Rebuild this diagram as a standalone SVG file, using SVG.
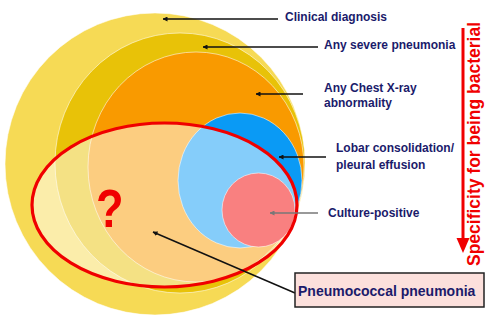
<svg xmlns="http://www.w3.org/2000/svg" width="485" height="320" viewBox="0 0 485 320">
<defs>
<style>
.lbl{font-family:"Liberation Sans",Arial,sans-serif;font-weight:bold;font-size:12px;fill:#1B1B6B}
.ring{stroke:#ffffff;stroke-opacity:0.55;stroke-width:1}
.ln{stroke:#111;stroke-width:1.5;fill:none;marker-end:url(#ah)}
</style>
<marker id="ah" viewBox="0 0 10 10" refX="9" refY="5" markerWidth="5" markerHeight="5" orient="auto" markerUnits="userSpaceOnUse">
<path d="M0,0 L10,5 L0,10 z" fill="#111"/>
</marker>
<marker id="ahg" viewBox="0 0 10 10" refX="9" refY="5" markerWidth="5" markerHeight="5" orient="auto" markerUnits="userSpaceOnUse">
<path d="M0,0 L10,5 L0,10 z" fill="#777"/>
</marker>
</defs>
<rect width="485" height="320" fill="#ffffff"/>
<g id="clinical"><ellipse class="ring" cx="155" cy="164" rx="150" ry="151" fill="#F6DA55"/></g>
<g id="severe"><ellipse class="ring" cx="180" cy="163" rx="125" ry="130" fill="#E8C208"/></g>
<g id="chestxray"><ellipse class="ring" cx="196" cy="167" rx="108" ry="115" fill="#F99A00"/></g>
<g id="lobar"><ellipse class="ring" cx="240" cy="180.5" rx="62" ry="67.5" fill="#0A9AF5"/></g>
<g id="overlay"><ellipse cx="164.5" cy="205" rx="132.5" ry="82" fill="#ffffff" fill-opacity="0.5"/></g>
<g id="culture"><ellipse class="ring" cx="258.5" cy="210" rx="36.5" ry="37" fill="#F98080"/></g>
<g id="pneumococcal-ellipse"><ellipse cx="164.5" cy="205" rx="132.5" ry="82" fill="none" stroke="#F00000" stroke-width="3.2"/>
<text transform="translate(96,227) scale(0.85,1)" font-family="'Liberation Sans',Arial,sans-serif" font-weight="bold" font-size="53" fill="#F00000">?</text></g>
<g id="connectors">
<line class="ln" x1="278" y1="19" x2="163" y2="19"/>
<line class="ln" x1="318" y1="47" x2="203" y2="47"/>
<line class="ln" x1="303" y1="94" x2="256" y2="94"/>
<line class="ln" x1="326" y1="157" x2="279" y2="157"/>
<line x1="318" y1="213" x2="270" y2="213" stroke="#777" stroke-width="1.5" marker-end="url(#ahg)"/>
<line class="ln" x1="295" y1="293" x2="153" y2="232"/>
<line x1="463" y1="28" x2="463" y2="240" stroke="#F00000" stroke-width="3"/>
<path d="M456.5,238 L469.5,238 L463,253 z" fill="#F00000"/>
</g>
<g id="labels">
<text class="lbl" x="285" y="21">Clinical diagnosis</text>
<text class="lbl" x="324" y="49">Any severe pneumonia</text>
<text class="lbl" x="324" y="92">Any Chest X-ray</text>
<text class="lbl" x="324" y="107">abnormality</text>
<text class="lbl" x="336" y="152">Lobar consolidation/</text>
<text class="lbl" x="336" y="169">pleural effusion</text>
<text class="lbl" x="328" y="217">Culture-positive</text>
</g>
<g id="box">
<rect x="295" y="273" width="189" height="34" fill="#FCE0DC" stroke="#222" stroke-width="1.5"/>
<text x="298" y="296" font-family="'Liberation Sans',Arial,sans-serif" font-weight="bold" font-size="14" fill="#1B1B6B">Pneumococcal pneumonia</text>
</g>
<g id="axis-label">
<text transform="translate(480,144) rotate(-90)" text-anchor="middle" font-family="'Liberation Sans',Arial,sans-serif" font-weight="bold" font-size="17.5" fill="#F00000">Specificity for being bacterial</text>
</g>
</svg>
